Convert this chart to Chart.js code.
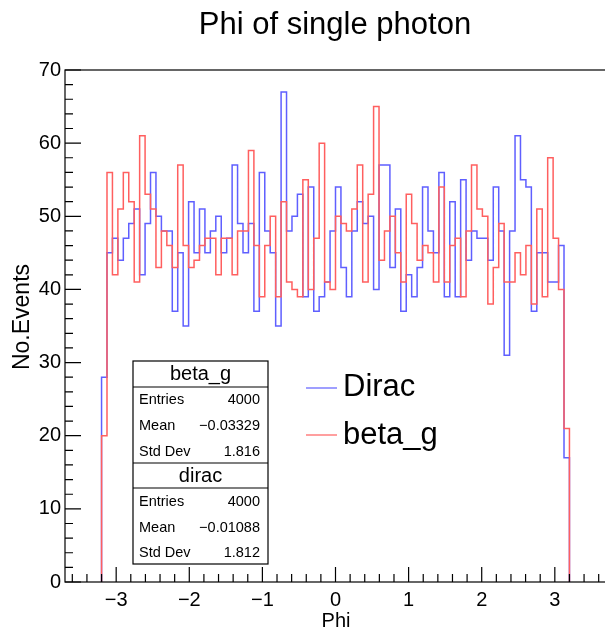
<!DOCTYPE html>
<html>
<head>
<meta charset="utf-8">
<script src="https://cdn.jsdelivr.net/npm/chart.js@4.4.0/dist/chart.umd.min.js"></script>
<style>
  html, body { margin: 0; padding: 0; background: #fff; overflow: hidden; }
  #wrap { width: 612px; height: 633px; position: relative; }
</style>
</head>
<body>
<div id="wrap"><canvas id="myChart"></canvas></div>
<script>
// histogram binning (both histos share it)
const binLow = -3.2;
const binHigh = 3.2;

// counts per bin
const betaG = [20, 56, 42, 51, 56, 52, 41, 61, 53, 51,
               43, 48, 46, 43, 57, 46, 43, 44, 46, 47,
               47, 42, 47, 47, 42, 48, 48, 59, 46, 39,
               46, 50, 39, 52, 41, 40, 39, 55, 40, 47,
               60, 41, 40, 50, 49, 48, 51, 57, 41, 53,
               65, 44, 48, 50, 45, 41, 53, 49, 44, 46,
               45, 41, 54, 41, 46, 47, 39, 48, 57, 51,
               50, 38, 43, 49, 41, 41, 45, 42, 46, 38,
               51, 39, 58, 47, 40, 21];
const dirac = [28, 45, 47, 44, 47, 49, 51, 42, 49, 56,
               50, 48, 48, 37, 45, 35, 52, 45, 51, 45,
               48, 50, 45, 47, 57, 49, 45, 49, 37, 56,
               48, 45, 35, 67, 48, 50, 53, 39, 54, 37,
               39, 41, 48, 54, 43, 39, 48, 52, 49, 50,
               40, 57, 57, 43, 51, 37, 42, 39, 43, 54,
               48, 45, 56, 39, 52, 39, 55, 44, 48, 47,
               47, 44, 54, 48, 31, 48, 61, 55, 54, 37,
               45, 45, 41, 41, 46, 17];

const xTicks = [-3, -2, -1, 0, 1, 2, 3];
const yTicks = [0, 10, 20, 30, 40, 50, 60, 70];
const statNames = ['Entries', 'Mean', 'Std Dev'];
const statsBeta = ['4000', '\u22120.03329', '1.816'];
const statsDirac = ['4000', '\u22120.01088', '1.812'];

const FONT = '"Liberation Sans", Arial, sans-serif';
const RED = 'rgb(255, 95, 95)';
const BLUE = 'rgb(95, 95, 255)';

function histPoints(counts) {
    var w = (binHigh - binLow) / counts.length;
    var pts = [{ x: binLow, y: 0 }];
    // each point sits on a bin's right edge; 'after' steps go up first, then across
    counts.forEach((c, i) => pts.push({ x: binLow + (i + 1) * w, y: c }));
    pts.push({ x: binHigh, y: 0 });
    return pts;
}

function fmt(v) {
    return v < 0 ? '\u2212' + Math.abs(v) : String(v);
}

// frame, ticks, labels, stats boxes and legend, ROOT style
const rootDecor = {
    id: 'rootDecor',
    afterDatasetsDraw(chart) {
        const ctx = chart.ctx;
        const a = chart.chartArea;
        const xs = chart.scales.x;
        const ys = chart.scales.y;
        ctx.save();
        ctx.strokeStyle = '#000';
        ctx.fillStyle = '#000';
        ctx.lineWidth = 1.2;
        ctx.strokeRect(a.left, a.top, a.right - a.left, a.bottom - a.top);

        // x ticks (inside the frame)
        ctx.beginPath();
        for (var k = -36; k <= 36; k += 2) {
            var px = xs.getPixelForValue(k / 10);
            var len = (k % 10 === 0) ? 15 : 8;
            ctx.moveTo(px, a.bottom);
            ctx.lineTo(px, a.bottom - len);
        }
        // y ticks
        for (var j = 0; j <= 70; j += 2) {
            var py = ys.getPixelForValue(j);
            var ylen = (j % 10 === 0) ? 16 : 8;
            ctx.moveTo(a.left, py);
            ctx.lineTo(a.left + ylen, py);
        }
        ctx.stroke();

        ctx.font = '20px ' + FONT;
        ctx.textAlign = 'center';
        ctx.textBaseline = 'middle';
        xTicks.forEach(t => ctx.fillText(fmt(t), xs.getPixelForValue(t), 600));
        ctx.textAlign = 'right';
        yTicks.forEach(t => ctx.fillText(fmt(t), a.left - 4, ys.getPixelForValue(t)));

        // axis titles
        ctx.textAlign = 'center';
        ctx.textBaseline = 'alphabetic';
        ctx.font = '20px ' + FONT;
        ctx.fillText('Phi', 336, 627);
        ctx.save();
        ctx.translate(29, 317);
        ctx.rotate(-Math.PI / 2);
        ctx.font = '23px ' + FONT;
        ctx.fillText('No.Events', 0, 0);
        ctx.restore();

        // title
        ctx.font = '31px ' + FONT;
        ctx.fillText('Phi of single photon', 335, 34);

        // stats boxes
        var bx = 133, bw = 135;
        ctx.lineWidth = 1.2;
        ctx.fillStyle = '#fff';
        ctx.fillRect(bx, 361, bw, 203);
        ctx.strokeRect(bx, 361, bw, 203);
        ctx.beginPath();
        [387, 463, 488].forEach(y => { ctx.moveTo(bx, y); ctx.lineTo(bx + bw, y); });
        ctx.stroke();
        ctx.fillStyle = '#000';
        ctx.textBaseline = 'middle';
        ctx.font = '20px ' + FONT;
        ctx.textAlign = 'center';
        ctx.fillText('beta_g', bx + bw / 2, 374);
        ctx.fillText('dirac', bx + bw / 2, 476);
        ctx.font = '14.5px ' + FONT;
        statNames.forEach((n, i) => {
            ctx.textAlign = 'left';
            ctx.fillText(n, bx + 6, 400 + i * 26);
            ctx.fillText(n, bx + 6, 502 + i * 25.5);
            ctx.textAlign = 'right';
            ctx.fillText(statsBeta[i], bx + bw - 8, 400 + i * 26);
            ctx.fillText(statsDirac[i], bx + bw - 8, 502 + i * 25.5);
        });

        // legend
        ctx.lineWidth = 1.2;
        ctx.strokeStyle = BLUE;
        ctx.beginPath(); ctx.moveTo(306, 388); ctx.lineTo(337, 388); ctx.stroke();
        ctx.strokeStyle = RED;
        ctx.beginPath(); ctx.moveTo(306, 435); ctx.lineTo(337, 435); ctx.stroke();
        ctx.font = '31px ' + FONT;
        ctx.textAlign = 'left';
        ctx.fillText('Dirac', 343, 387);
        ctx.fillText('beta_g', 343, 435);
        ctx.restore();
    }
};

function drawChart() {
    const ctx = document.getElementById('myChart');
    new Chart(ctx, {
        type: 'line',
        data: {
            datasets: [{
                label: 'beta_g',
                data: histPoints(betaG),
                borderColor: RED,
                borderWidth: 1.5,
                stepped: 'after',
                pointRadius: 0,
                fill: false,
                order: 0
            }, {
                label: 'Dirac',
                data: histPoints(dirac),
                borderColor: BLUE,
                borderWidth: 1.5,
                stepped: 'after',
                pointRadius: 0,
                fill: false,
                order: 1
            }]
        },
        options: {
            responsive: true,
            maintainAspectRatio: false,
            animation: false,
            layout: { padding: { left: 65, top: 70, right: 6, bottom: 51 } },
            scales: {
                x: { type: 'linear', min: -3.7, max: 3.7, display: false },
                y: { type: 'linear', min: 0, max: 70, display: false }
            },
            plugins: {
                legend: { display: false },
                tooltip: { enabled: false }
            }
        },
        plugins: [rootDecor]
    });
}

drawChart();
</script>
</body>
</html>
